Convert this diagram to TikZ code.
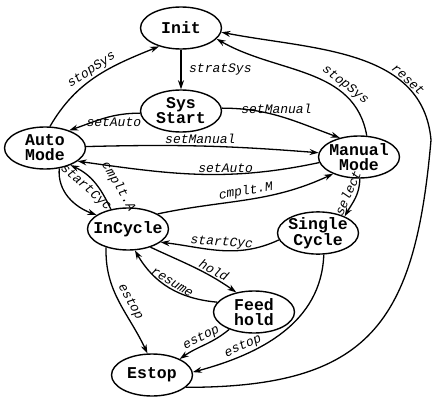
\documentclass[tikz,border=0pt]{standalone}
\usepackage{fontspec}
\setmonofont{Liberation Mono}
\usetikzlibrary{shapes.geometric,arrows.meta}
\begin{document}
\begin{tikzpicture}[x=1pt,y=1pt,
  st/.style={ellipse, draw, line width=1.4pt, minimum width=81pt, minimum height=42pt,
    inner xsep=-7pt, inner ysep=-1pt, align=center,
    font=\fontsize{16.5}{15}\selectfont\ttfamily\bfseries},
  lab/.style={font=\fontsize{13}{13}\selectfont\ttfamily\itshape, inner sep=1.5pt},
  edge/.style={line width=1.3pt, -{Stealth[length=9pt,width=6pt]}}]
\useasboundingbox (0,0) rectangle (433,-401);

% states
\node[st] (init)   at (181,-28)  {Init};
\node[st] (sys)    at (181,-111) {Sys\\Start};
\node[st] (auto)   at (45,-148)  {Auto\\Mode};
\node[st] (manual) at (359,-157) {Manual\\Mode};
\node[st] (incyc)  at (128,-229) {InCycle};
\node[st] (single) at (318,-233) {Single\\Cycle};
\node[st] (feed)   at (254,-312) {Feed\\hold};
\node[st] (estop)  at (152,-375) {Estop};
\coordinate (rbend) at (431,-140);

% transitions
\draw[edge] (init) -- node[lab,right,xshift=6pt] {stratSys} (sys);
\draw[edge] (auto.77) to[out=60,in=202] node[lab,sloped,above,pos=0.5] {stopSys} (init.220);
\draw[edge] (sys.183) to[out=180,in=19] node[lab,below,pos=0.35] {setAuto} (auto.36);
\draw[edge] (sys.4) to[out=0,in=160] node[lab,above,pos=0.45] {setManual} (manual.135);
\draw[edge] (auto.2) to[bend left=3] node[lab,above,pos=0.49] {setManual} (manual.174);
\draw[edge] (manual.188) to[out=192,in=-8] node[lab,above,pos=0.38] {setAuto} (auto.338);
\draw[edge] (incyc.27) to[out=12,in=205] node[lab,sloped,above,pos=0.5] {cmplt.M} (manual.213);
\draw[edge] (auto.305) to[out=265,in=160] node[lab,sloped,above=11pt,pos=0.6] {startCyc} (incyc.156);
\draw[edge] (incyc.131) to[out=115,in=335] node[lab,sloped,above=9pt,pos=0.24] {cmplt.A} (auto.326);
\draw[edge] (manual.272) to[out=270,in=60] node[lab,sloped,above=2pt,pos=0.45] {select} (single.32);
\draw[edge] (single.190) to[out=205,in=353] node[lab,sloped,above,pos=0.5] {startCyc} (incyc.338);
\draw[edge] (incyc.321) to[out=-25,in=145] node[lab,sloped,above,pos=0.7] {hold} (feed.132);
\draw[edge] (feed.165) to[out=175,in=300] node[lab,sloped,above,pos=0.5] {resume} (incyc.288);
\draw[edge] (incyc.220) to[out=268,in=115] node[lab,sloped,above=2pt,pos=0.55] {estop} (estop.102);
\draw[edge] (feed.215) to[out=220,in=35] node[lab,sloped,above,pos=0.5] {estop} (estop.30);
\draw[edge] (single.285) to[out=268,in=15] node[lab,sloped,above,pos=0.72] {estop} (estop.4);
\draw[edge] (estop.340) to[out=0,in=265,looseness=1.35] (rbend)
  to[out=95,in=349] node[lab,sloped,above,inner sep=0.8pt,pos=0.27] {reset} (init.354);
\draw[edge] (manual.70) to[out=100,in=330] node[lab,sloped,above,pos=0.3] {stopSys} (init.343);
\end{tikzpicture}
\end{document}
